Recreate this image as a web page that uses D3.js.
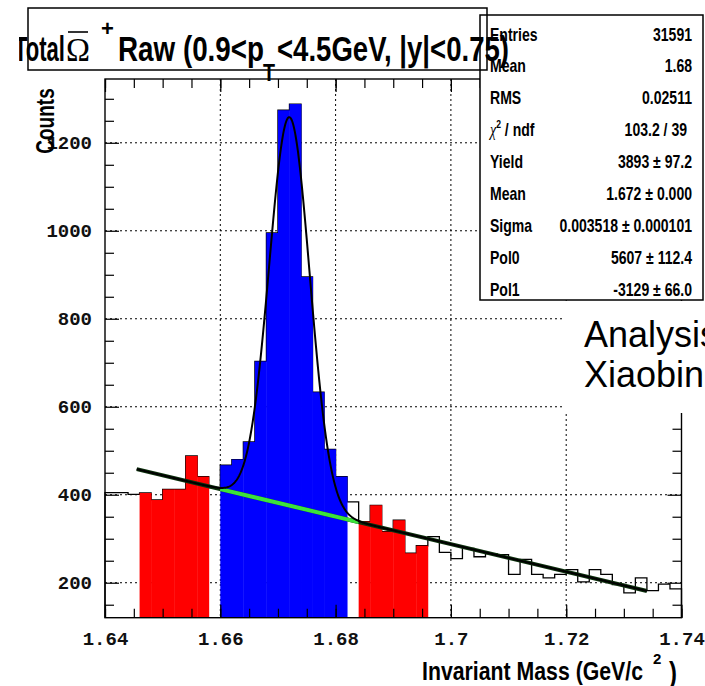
<!DOCTYPE html>
<html>
<head>
<meta charset="utf-8">
<script src="https://cdn.jsdelivr.net/npm/d3@7"></script>
<style>
  body { margin: 0; background: #fff; }
  svg { display: block; }
</style>
</head>
<body>
<div id="svgcontainer"></div>
<script>
var width = 705, height = 686;

// histogram: 50 bins of 0.002 GeV/c^2 starting at 1.64
var binLow = 1.64, binWidth = 0.002;
var counts = [405, 405, 401, 404, 388, 412, 412, 488, 441, 416,
              467, 480, 520, 703, 995, 1274, 1288, 895, 633, 503,
              441, 384, 339, 376, 316, 342, 267, 284, 305, 269,
              255, 278, 259, 266, 264, 219, 253, 219, 211, 219,
              230, 202, 230, 219, 196, 177, 211, 182, 197, 186];
// bin index ranges that are filled
var sideBand1 = [3, 8], signalBins = [10, 20], sideBand2 = [22, 27];

var xTicks = [1.64, 1.66, 1.68, 1.70, 1.72, 1.74];
var xTickLabels = ["1.64", "1.66", "1.68", "1.7", "1.72", "1.74"];
var yTicks = [200, 400, 600, 800, 1000, 1200];
var yTickLabels = ["200", "400", "600", "800", "1000", "1200"];

// stats box
var statNames = ["Entries", "Mean", "RMS", "chi2", "Yield", "Mean", "Sigma", "Pol0", "Pol1"];
var statValues = ["31591", "1.68", "0.02511", "103.2 / 39", "3893 \u00b1 97.2",
                  "1.672 \u00b1 0.000", "0.003518  \u00b1 0.000101", "5607 \u00b1 112.4", "-3129  \u00b1 66.0"];

// fit (gaus + pol1) parameters as printed in the box
var fitYield = 3893, fitMean = 1.672, fitSigma = 0.003518, pol0 = 5607, pol1 = -3129;
var fitRange = [1.6455, 1.734], bgRange = [1.66, 1.684];

var sans = "Liberation Sans, Arial, Helvetica, sans-serif";
var serif = "Liberation Serif, Times New Roman, serif";
var mono = "Liberation Mono, Courier New, monospace";

var svg = d3.select("#svgcontainer")
    .append("svg")
    .attr("width", width)
    .attr("height", height);

var x = d3.scaleLinear().domain([1.64, 1.74]).range([105, 681.5]);
var y = d3.scaleLinear().domain([120.5, 1345]).range([617.7, 79]);
var xl = x.range()[0], xr = x.range()[1], yb = y.range()[0], yt = y.range()[1];

// dotted grid
svg.append("g").selectAll("line")
  .data(xTicks.slice(1, -1)).join("line")
  .attr("x1", d => x(d)).attr("x2", d => x(d))
  .attr("y1", yt).attr("y2", yb)
  .attr("stroke", "#000").attr("stroke-dasharray", "2,3");
svg.append("g").selectAll("line")
  .data(yTicks).join("line")
  .attr("x1", xl).attr("x2", xr)
  .attr("y1", d => y(d)).attr("y2", d => y(d))
  .attr("stroke", "#000").attr("stroke-dasharray", "2,3");

// histogram outline
var nb = counts.length;
var hiEdge = binLow + nb * binWidth;
var pts = [[binLow, y.domain()[0]]]
  .concat(counts.map((c, i) => [binLow + i * binWidth, c]))
  .concat([[hiEdge, counts[nb - 1]], [hiEdge, y.domain()[0]]]);
svg.append("path")
  .attr("d", d3.line().x(d => x(d[0])).y(d => y(d[1])).curve(d3.curveStepAfter)(pts))
  .attr("fill", "none").attr("stroke", "#000").attr("stroke-width", 1.3);

// filled side bands and signal region
function inRange(i, r) { return i >= r[0] && i <= r[1]; }
function binColor(i) {
  if (inRange(i, signalBins)) return "#0000ff";
  if (inRange(i, sideBand1) || inRange(i, sideBand2)) return "#ff0000";
  return null;
}
svg.append("g").selectAll("rect")
  .data(counts.map((c, i) => ({ i: i, c: c })).filter(d => binColor(d.i)))
  .join("rect")
  .attr("x", d => x(binLow + d.i * binWidth))
  .attr("width", d => x(binLow + (d.i + 1) * binWidth) - x(binLow + d.i * binWidth) + 0.4)
  .attr("y", d => y(d.c))
  .attr("height", d => yb - y(d.c))
  .attr("fill", d => binColor(d.i));

// fit curves
function bg(m) { return pol0 + pol1 * m; }
function total(m) {
  var z = (m - fitMean) / fitSigma;
  return fitYield * binWidth / (Math.sqrt(2 * Math.PI) * fitSigma) * Math.exp(-0.5 * z * z) + bg(m);
}
var line = d3.line().x(d => x(d[0])).y(d => y(d[1]));
svg.append("path")
  .attr("d", line(fitRange.map(m => [m, bg(m)])))
  .attr("fill", "none").attr("stroke", "#0c300c").attr("stroke-width", 4);
svg.append("path")
  .attr("d", line(bgRange.map(m => [m, bg(m)])))
  .attr("fill", "none").attr("stroke", "#3ce23c").attr("stroke-width", 4);
var ms = d3.range(fitRange[0], fitRange[1], 0.0001).concat([fitRange[1]]);
svg.append("path")
  .attr("d", line(ms.map(m => [m, total(m)])))
  .attr("fill", "none").attr("stroke", "#000").attr("stroke-width", 2);

// frame and ticks
svg.append("rect")
  .attr("x", xl).attr("y", yt).attr("width", xr - xl).attr("height", yb - yt)
  .attr("fill", "none").attr("stroke", "#000").attr("stroke-width", 1.4);

var xMinor = d3.range(0, 21).map(i => 1.64 + i * 0.005);
var yMinor = d3.range(150, 1301, 50).filter(v => yTicks.indexOf(v) < 0);

function tickG(axis, tr) {
  var g = svg.append("g").attr("transform", tr).call(axis);
  g.select(".domain").remove();
  g.selectAll("line").attr("stroke", "#000").attr("stroke-width", 1.2);
  g.selectAll("text").attr("font-family", mono).attr("font-size", 19)
    .attr("font-weight", "bold").attr("fill", "#111");
  return g;
}
tickG(d3.axisLeft(y).tickValues(yTicks).tickSize(-14).tickPadding(13)
  .tickFormat((d, i) => yTickLabels[i]), "translate(" + xl + ",0)");
tickG(d3.axisLeft(y).tickValues(yMinor).tickSize(-9).tickFormat(""), "translate(" + xl + ",0)");
tickG(d3.axisRight(y).tickValues(yTicks).tickSize(-14).tickFormat(""), "translate(" + xr + ",0)");
tickG(d3.axisRight(y).tickValues(yMinor).tickSize(-9).tickFormat(""), "translate(" + xr + ",0)");
tickG(d3.axisBottom(x).tickValues(xTicks).tickSize(-13).tickPadding(14)
  .tickFormat((d, i) => xTickLabels[i]), "translate(0," + yb + ")");
tickG(d3.axisBottom(x).tickValues(xMinor).tickSize(-9).tickFormat(""), "translate(0," + yb + ")");
tickG(d3.axisTop(x).tickValues(xTicks).tickSize(-13).tickFormat(""), "translate(0," + yt + ")");
tickG(d3.axisTop(x).tickValues(xMinor).tickSize(-9).tickFormat(""), "translate(0," + yt + ")");

// axis titles (narrow bold)
svg.append("text")
  .attr("transform", "translate(54,121) rotate(-90) scale(0.76,1)")
  .attr("text-anchor", "middle")
  .attr("font-family", sans).attr("font-weight", "bold").attr("font-size", 25)
  .text("Counts");
svg.append("text")
  .attr("x", 422).attr("y", 680)
  .attr("font-family", sans).attr("font-weight", "bold").attr("font-size", 26)
  .attr("textLength", 221).attr("lengthAdjust", "spacingAndGlyphs")
  .text("Invariant Mass (GeV/c");
svg.append("text")
  .attr("x", 653).attr("y", 664)
  .attr("font-family", sans).attr("font-weight", "bold").attr("font-size", 15)
  .text("2");
svg.append("text")
  .attr("transform", "translate(669,683) scale(0.8,1)")
  .attr("font-family", sans).attr("font-weight", "bold").attr("font-size", 30)
  .text(")");

// stats box
svg.append("rect")
  .attr("x", 480).attr("y", 15).attr("width", 223).attr("height", 285)
  .attr("fill", "#fff").attr("stroke", "#000").attr("stroke-width", 1.5);
var rowY = d3.scaleLinear().domain([0, statNames.length - 1]).range([40.5, 295.5]);
statNames.forEach(function (n, i) {
  var t = svg.append("text")
    .attr("transform", "translate(490," + rowY(i) + ") scale(0.78,1)")
    .attr("font-family", sans).attr("font-weight", "bold").attr("font-size", 18);
  if (n === "chi2") {
    t.append("tspan").attr("font-family", serif).attr("font-style", "italic").attr("font-weight", "normal").text("\u03c7");
    t.append("tspan").attr("font-size", 11).attr("dy", -8).text("2");
    t.append("tspan").attr("dy", 8).text(" / ndf");
  } else {
    t.text(n);
  }
  svg.append("text")
    .attr("transform", "translate(" + (n === "chi2" ? 687 : 692) + "," + rowY(i) + ") scale(0.78,1)")
    .attr("text-anchor", "end")
    .attr("font-family", sans).attr("font-weight", "bold").attr("font-size", 18)
    .text(statValues[i]);
});

// white note box over the upper right corner
svg.append("rect")
  .attr("x", 563).attr("y", 301).attr("width", 142).attr("height", 112)
  .attr("fill", "#fff");
svg.append("text").attr("x", 584).attr("y", 347)
  .attr("font-family", sans).attr("font-size", 36).text("Analysis");
svg.append("text").attr("x", 584).attr("y", 387)
  .attr("font-family", sans).attr("font-size", 36).text("Xiaobin");

// title
svg.append("rect")
  .attr("x", 28).attr("y", 8).attr("width", 459).attr("height", 62)
  .attr("fill", "none").attr("stroke", "#000").attr("stroke-width", 1.5);
svg.append("clipPath").attr("id", "titleclip")
  .append("rect").attr("x", 19).attr("y", 0).attr("width", 686).attr("height", 90);
var title = svg.append("g").attr("clip-path", "url(#titleclip)");
title.append("text").attr("x", 14).attr("y", 61)
  .attr("font-family", sans).attr("font-weight", "bold").attr("font-size", 35)
  .attr("textLength", 51).attr("lengthAdjust", "spacingAndGlyphs").text("Total");
title.append("text").attr("x", 66).attr("y", 61)
  .attr("font-family", serif).attr("font-size", 33)
  .attr("textLength", 24).attr("lengthAdjust", "spacingAndGlyphs").text("\u03a9");
title.append("line").attr("x1", 68).attr("x2", 88).attr("y1", 32).attr("y2", 32)
  .attr("stroke", "#000").attr("stroke-width", 1.6);
title.append("text").attr("x", 101).attr("y", 36)
  .attr("font-family", sans).attr("font-weight", "bold").attr("font-size", 22).text("+");
title.append("text").attr("x", 118).attr("y", 61)
  .attr("font-family", sans).attr("font-weight", "bold").attr("font-size", 35)
  .attr("textLength", 146).attr("lengthAdjust", "spacingAndGlyphs").text("Raw (0.9<p");
title.append("text").attr("x", 263).attr("y", 81)
  .attr("font-family", sans).attr("font-weight", "bold").attr("font-size", 24)
  .attr("textLength", 12).attr("lengthAdjust", "spacingAndGlyphs").text("T");
title.append("text").attr("x", 277).attr("y", 61)
  .attr("font-family", sans).attr("font-weight", "bold").attr("font-size", 35)
  .attr("textLength", 232).attr("lengthAdjust", "spacingAndGlyphs").text("<4.5GeV, |y|<0.75)");
</script>
</body>
</html>
